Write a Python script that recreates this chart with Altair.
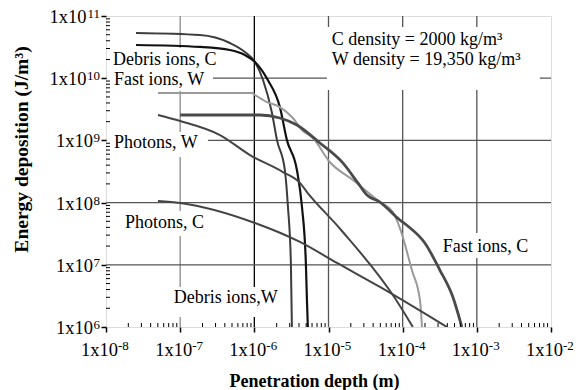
import math
import altair as alt
import pandas as pd

# ---------------- axis ticks ----------------
X_TICKS = [1e-8, 1e-7, 1e-6, 1e-5, 1e-4, 1e-3, 1e-2]
X_TICK_BASE = ["1x10"] * 7
X_TICK_EXP = ["-8", "-7", "-6", "-5", "-4", "-3", "-2"]
Y_TICKS = [1e6, 1e7, 1e8, 1e9, 1e10, 1e11]
Y_TICK_BASE = ["1x10"] * 6
Y_TICK_EXP = ["6", "7", "8", "9", "10", "11"]
X_MINOR = [m * 10.0 ** e for e in range(-8, -2) for m in range(2, 10)]
Y_MINOR = [m * 10.0 ** e for e in range(6, 11) for m in range(2, 10)]

# ---------------- series (penetration depth m, energy J/m3) ----------------
DEBRIS_W_X = [2.54e-8, 1.85e-7, 4.69e-7, 7.46e-7, 1.02e-6, 1.31e-6, 1.73e-6, 2.02e-6, 2.58e-6, 2.84e-6, 3.11e-6, 3.21e-6]
DEBRIS_W_Y = [5.33e10, 4.95e10, 3.68e10, 2.64e10, 1.82e10, 9.35e9, 2.76e9, 1.01e9, 3.34e8, 8.49e7, 1.07e7, 1.0e6]

DEBRIS_C_X = [2.54e-8, 1.85e-7, 4.69e-7, 7.46e-7, 1.02e-6, 1.52e-6, 2.21e-6, 2.75e-6, 3.75e-6, 4.39e-6, 4.95e-6, 5.12e-6, 5.27e-6]
DEBRIS_C_Y = [3.42e10, 3.18e10, 2.84e10, 2.36e10, 1.82e10, 9.35e9, 3.44e9, 1.01e9, 3.34e8, 8.49e7, 1.07e7, 2.72e6, 1.0e6]

FAST_W_X = [5.02e-8, 9.29e-7, 1.02e-6, 1.48e-6, 2.21e-6, 3.31e-6, 4.39e-6, 6.17e-6, 1.04e-5, 2.13e-5, 4.93e-5, 7.38e-5, 9.16e-5, 1.33e-4, 1.71e-4, 1.82e-4]
FAST_W_Y = [5.78e9, 5.78e9, 5.37e9, 4.14e9, 3.44e9, 2.29e9, 1.47e9, 1.09e9, 4.50e8, 2.31e8, 1.02e8, 7.06e7, 3.91e7, 8.24e6, 2.72e6, 1.0e6]

FAST_C_X = [1.0e-7, 1.19e-6, 2.21e-6, 3.75e-6, 7.66e-6, 1.56e-5, 2.49e-5, 3.30e-5, 4.93e-5, 9.16e-5, 1.17e-4, 1.99e-4, 3.17e-4, 4.75e-4, 6.28e-4]
FAST_C_Y = [2.56e9, 2.56e9, 2.29e9, 1.77e9, 9.08e8, 4.34e8, 2.07e8, 1.32e8, 1.02e8, 5.25e7, 4.21e7, 2.24e7, 8.24e6, 3.03e6, 1.0e6]

PHOTONS_W_X = [5.02e-8, 1.0e-7, 3.44e-7, 8.73e-7, 2.43e-6, 4.12e-6, 5.12e-6, 1.43e-5, 7.85e-5, 1.37e-4]
PHOTONS_W_Y = [2.56e9, 2.05e9, 1.22e9, 5.82e8, 3.10e8, 2.07e8, 1.48e8, 3.8e7, 2.92e6, 1.0e6]

PHOTONS_C_X = [5.02e-8, 1.0e-7, 1.02e-6, 4.12e-6, 1.30e-5, 4.93e-5, 3.94e-4]
PHOTONS_C_Y = [1.06e8, 9.86e7, 4.70e7, 2.33e7, 1.07e7, 4.40e6, 1.0e6]

# ---------------- annotations ----------------
LABEL_TEXT = ["Debris ions, C", "Fast ions, W", "Photons, W", "Photons, C", "Debris ions,W", "Fast ions, C",
              "C density = 2000 kg/m³", "W density = 19,350 kg/m³"]
LABEL_X = [1.24e-8, 1.28e-8, 1.28e-8, 1.80e-8, 8.2e-8, 3.48e-4, 1.11e-5, 1.11e-5]
LABEL_Y = [1.63e10, 7.78e9, 7.55e8, 3.91e7, 2.43e6, 1.61e7, 3.42e10, 1.63e10]

BOX_X1 = [1.03e-8, 1.03e-8, 1.55e-8, 7.3e-8, 3.17e-4, 9.5e-6]
BOX_X2 = [2.77e-7, 2.37e-7, 2.37e-7, 2.36e-6, 6.05e-3, 7.06e-3]
BOX_Y1 = [3.06e10, 1.36e9, 7.33e7, 4.4e6, 3.24e7, 6.65e10]
BOX_Y2 = [6.22e9, 5.41e8, 2.9e7, 1.45e6, 1.29e7, 6.46e9]

SERIES = [
    ("Debris ions, W", DEBRIS_W_X, DEBRIS_W_Y),
    ("Debris ions, C", DEBRIS_C_X, DEBRIS_C_Y),
    ("Fast ions, W", FAST_W_X, FAST_W_Y),
    ("Fast ions, C", FAST_C_X, FAST_C_Y),
    ("Photons, W", PHOTONS_W_X, PHOTONS_W_Y),
    ("Photons, C", PHOTONS_C_X, PHOTONS_C_Y),
]
STYLE = {
    "Debris ions, W": ("#3c3c3c", 2.0),
    "Debris ions, C": ("#111111", 2.2),
    "Fast ions, W": ("#9a9a9a", 2.0),
    "Fast ions, C": ("#4a4a4a", 2.8),
    "Photons, W": ("#444444", 2.0),
    "Photons, C": ("#444444", 2.0),
}

FONT = "Liberation Serif"
W, H = 445, 311

xscale = alt.Scale(type="log", domain=[1e-8, 1e-2], nice=False)
yscale = alt.Scale(type="log", domain=[1e6, 1e11], nice=False)

xaxis = alt.Axis(
    values=X_TICKS, labels=False, grid=False, domain=False,
    tickSize=5, tickWidth=1.5, tickColor="black",
    title="Penetration depth (m)", titleFont=FONT, titleFontSize=18, titleFontWeight="bold",
    titleColor="black", titleX=208, titleY=59, titleBaseline="alphabetic",
)
yaxis = alt.Axis(
    values=Y_TICKS, labels=False, grid=False, domain=False,
    tickSize=5, tickWidth=1.5, tickColor="black",
    title="Energy deposition (J/m³)", titleFont=FONT, titleFontSize=19.5, titleFontWeight="bold",
    titleColor="black", titleX=-75, titleY=133, titleBaseline="bottom", titleAngle=-90,
)


def X(field="x"):
    return alt.X(f"{field}:Q", scale=xscale, axis=xaxis)


def Y(field="y"):
    return alt.Y(f"{field}:Q", scale=yscale, axis=yaxis)


rows = []
for name, xs, ys in SERIES:
    for i, (a, b) in enumerate(zip(xs, ys)):
        rows.append({"series": name, "x": a, "y": b, "i": i})
curves_df = pd.DataFrame(rows)

grid_x = pd.DataFrame({"x": X_TICKS[1:-1]})
grid_y = pd.DataFrame({"y": Y_TICKS[1:-1]})
boxes = pd.DataFrame({"x": BOX_X1, "x2": BOX_X2, "y": BOX_Y1, "y2": BOX_Y2})
labels = pd.DataFrame({"x": LABEL_X, "y": LABEL_Y, "t": LABEL_TEXT})
xticks_df = pd.DataFrame({"x": X_TICKS, "b": X_TICK_BASE, "e": X_TICK_EXP})
yticks_df = pd.DataFrame({"y": Y_TICKS, "b": Y_TICK_BASE, "e": Y_TICK_EXP})

vgrid = alt.Chart(grid_x).mark_rule(strokeWidth=1.3).encode(
    x=X(),
    color=alt.when(alt.datum.x == 1e-6).then(alt.value("#000000"))
    .when(alt.datum.x == 1e-7).then(alt.value("#8a8a8a"))
    .otherwise(alt.value("#555555")),
)
hgrid = alt.Chart(grid_y).mark_rule(strokeWidth=1.3, color="#555555").encode(y=Y())

box_layer = alt.Chart(boxes).mark_rect(color="white").encode(
    x=X(), x2="x2:Q", y=Y(), y2="y2:Q"
)

line_layers = []
for name, _, _ in SERIES:
    col, sw = STYLE[name]
    line_layers.append(
        alt.Chart(curves_df[curves_df.series == name]).mark_line(
            color=col, strokeWidth=sw, interpolate="monotone", clip=True
        ).encode(x=X(), y=Y(), order="i:Q")
    )

text_layer = alt.Chart(labels).mark_text(
    align="left", baseline="alphabetic", font=FONT, fontSize=18, color="black"
).encode(x=X(), y=Y(), text="t:N")

xminor = alt.Chart(pd.DataFrame({"x": X_MINOR})).mark_rule(color="black", strokeWidth=1).encode(
    x=X(), y=alt.value(H), y2=alt.value(H - 4)
)
yminor = alt.Chart(pd.DataFrame({"y": Y_MINOR})).mark_rule(color="black", strokeWidth=1).encode(
    y=Y(), x=alt.value(0), x2=alt.value(4)
)

# tick labels: "1x10" with raised exponent
xlab_base = alt.Chart(xticks_df).mark_text(
    align="right", baseline="alphabetic", font=FONT, fontSize=18.5, color="black", dx=12
).encode(x=X(), y=alt.value(H + 29), text="b:N")
xlab_exp = alt.Chart(xticks_df).mark_text(
    align="left", baseline="alphabetic", font=FONT, fontSize=13, color="black", dx=12
).encode(x=X(), y=alt.value(H + 23), text="e:N")

ylab_exp = alt.Chart(yticks_df).mark_text(
    align="right", baseline="alphabetic", font=FONT, fontSize=13, color="black", dy=2
).encode(y=Y(), x=alt.value(-6), text="e:N")
ylab_base1 = alt.Chart(yticks_df).transform_filter("length(datum.e) == 1").mark_text(
    align="right", baseline="alphabetic", font=FONT, fontSize=18.5, color="black", dy=7
).encode(y=Y(), x=alt.value(-13), text="b:N")
ylab_base2 = alt.Chart(yticks_df).transform_filter("length(datum.e) == 2").mark_text(
    align="right", baseline="alphabetic", font=FONT, fontSize=18.5, color="black", dy=7
).encode(y=Y(), x=alt.value(-19.5), text="b:N")

chart = alt.layer(
    vgrid, hgrid, box_layer, *line_layers, xminor, yminor, text_layer,
    xlab_base, xlab_exp, ylab_exp, ylab_base1, ylab_base2
).properties(
    width=W, height=H,
    autosize=alt.AutoSizeParams(type="none"),
    padding={"left": 106, "top": 16, "right": 35, "bottom": 63},
).configure_view(
    stroke="black", strokeWidth=1.6
).configure(background="white")

chart.save("out.html", embed_options={"renderer": "svg", "actions": False})
